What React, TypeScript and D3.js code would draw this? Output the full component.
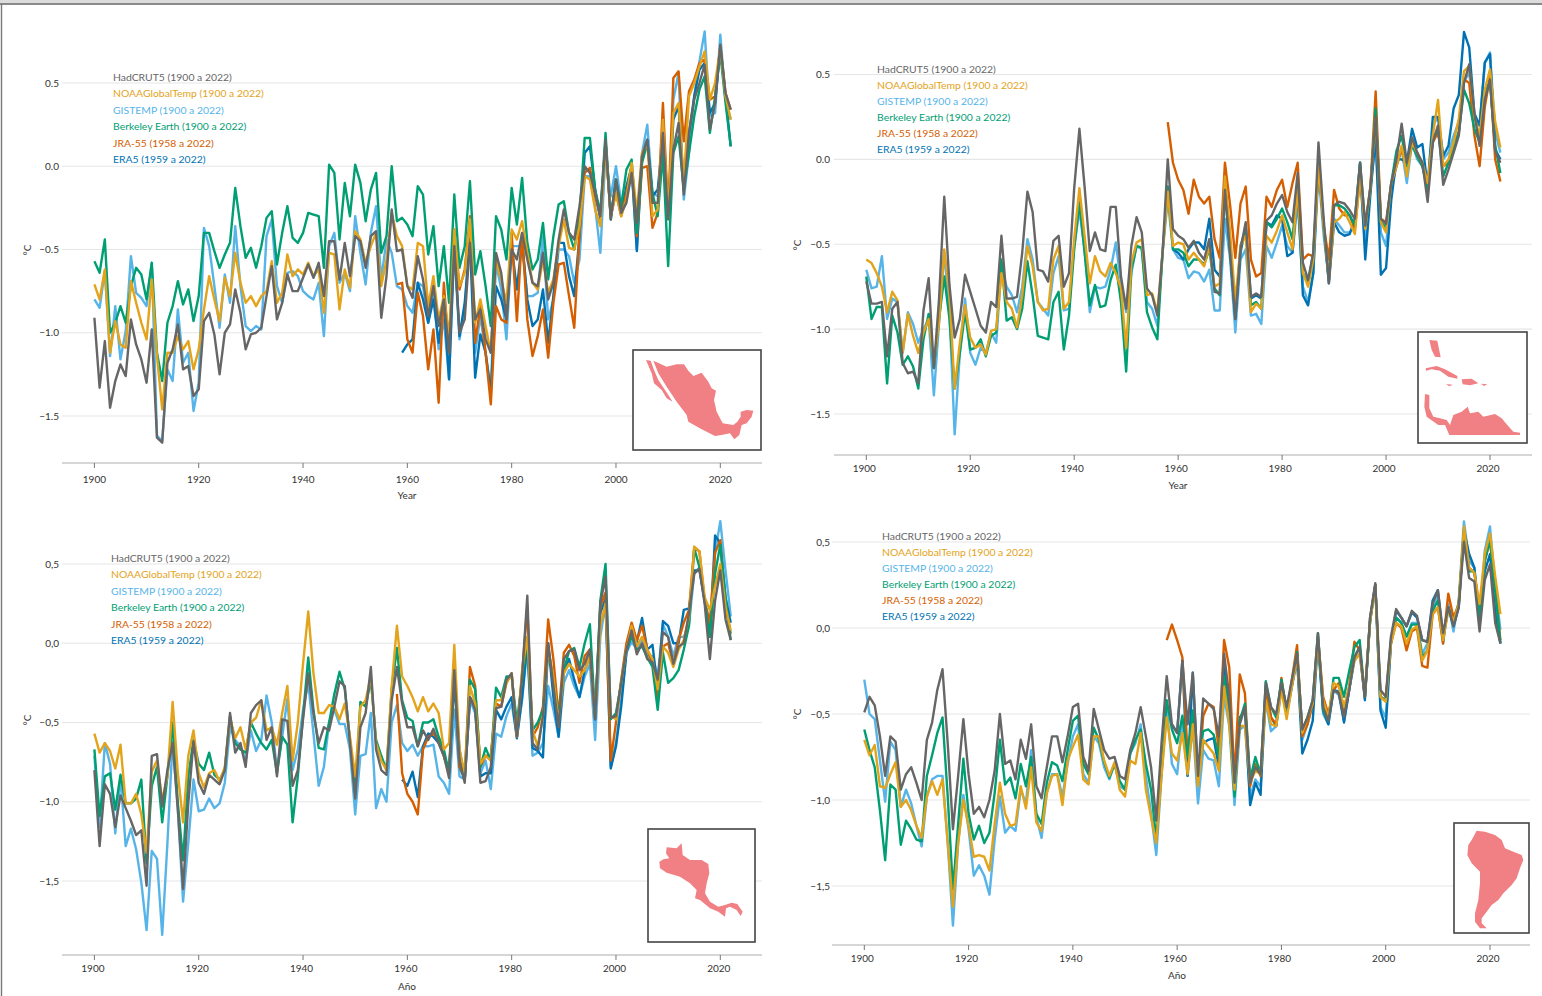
import React from "react";
import * as d3 from "d3";

const SERIES_NAMES = ["HadCRUT5 (1900 a 2022)", "NOAAGlobalTemp (1900 a 2022)", "GISTEMP (1900 a 2022)", "Berkeley Earth (1900 a 2022)", "JRA-55 (1958 a 2022)", "ERA5 (1959 a 2022)"];
const SERIES_COLORS = ["#666666", "#e3a31a", "#56b4e9", "#009e73", "#d55e00", "#0072b2"];
const SERIES_START = [1900, 1900, 1900, 1900, 1958, 1959];
// back to front
const DRAW_ORDER = [2, 5, 4, 3, 1, 0];
const X_TICKS = [1900, 1920, 1940, 1960, 1980, 2000, 2020];
const Y_TICKS = [-1.5, -1, -0.5, 0, 0.5];

// Mexico
const mexHad = [
  -0.91,-1.33,-1.05,-1.45,-1.29,-1.19,-1.26,-0.92,-1.07,-1.16,
  -1.30,-0.98,-1.63,-1.66,-1.18,-1.10,-0.95,-1.22,-1.20,-1.38,
  -1.34,-0.93,-0.88,-1.01,-1.25,-1.00,-0.95,-0.74,-0.88,-1.10,
  -1.01,-1.00,-0.97,-0.78,-0.60,-0.92,-0.82,-0.65,-0.75,-0.75,
  -0.67,-0.59,-0.67,-0.58,-0.78,-0.45,-0.45,-0.68,-0.46,-0.66,
  -0.42,-0.45,-0.61,-0.42,-0.39,-0.91,-0.66,-0.26,-0.51,-0.50,
  -0.72,-0.79,-0.54,-0.68,-0.90,-0.72,-0.96,-0.80,-1.12,-0.48,
  -1.00,-0.92,-0.46,-0.92,-0.86,-1.04,-1.12,-0.52,-0.64,-0.92,
  -0.50,-0.56,-0.40,-0.56,-0.70,-0.72,-0.52,-0.80,-0.70,-0.44,
  -0.26,-0.40,-0.44,-0.24,0,-0.04,-0.16,-0.30,0.16,-0.32,
  -0.08,-0.28,-0.22,-0.04,-0.34,0.06,0.16,-0.22,-0.22,0.20,
  -0.32,0.10,0.26,-0.17,0.20,0.40,0.50,0.61,0.22,0.38,
  0.73,0.44,0.34];
const mexNoaa = [
  -0.71,-0.80,-0.62,-1.12,-0.93,-1.07,-1.09,-0.69,-0.82,-0.94,
  -1.04,-0.68,-1.14,-1.46,-1.12,-1.12,-1.02,-1.10,-1.05,-1.22,
  -1.10,-0.86,-0.66,-0.80,-0.93,-0.67,-0.78,-0.52,-0.70,-0.82,
  -0.78,-0.84,-0.78,-0.75,-0.57,-0.82,-0.76,-0.53,-0.66,-0.62,
  -0.65,-0.58,-0.66,-0.62,-0.88,-0.52,-0.53,-0.86,-0.62,-0.73,
  -0.39,-0.44,-0.58,-0.48,-0.40,-0.72,-0.56,-0.28,-0.42,-0.48,
  -0.72,-0.74,-0.46,-0.48,-0.84,-0.66,-0.92,-0.78,-1.02,-0.38,
  -0.72,-0.64,-0.32,-0.94,-0.80,-0.96,-1.12,-0.56,-0.68,-0.82,
  -0.38,-0.44,-0.33,-0.52,-0.70,-0.74,-0.56,-0.76,-0.68,-0.48,
  -0.32,-0.49,-0.50,-0.36,-0.06,-0.08,-0.26,-0.36,0.12,-0.30,
  -0.16,-0.30,-0.20,0.02,-0.28,0.08,0.14,-0.30,-0.26,0.28,
  -0.28,0.32,0.38,-0.10,0.42,0.50,0.60,0.69,0.40,0.50,
  0.71,0.42,0.28];
const mexGiss = [
  -0.80,-0.85,-0.63,-1.14,-0.84,-1.16,-0.99,-0.54,-0.76,-0.79,
  -0.84,-0.58,-1.62,-1.65,-1.22,-1.29,-0.86,-1.18,-1.12,-1.47,
  -1.30,-0.37,-0.48,-0.72,-0.97,-0.65,-0.82,-0.36,-0.72,-0.96,
  -0.99,-0.96,-0.98,-0.42,-0.32,-0.72,-0.82,-0.64,-0.63,-0.66,
  -0.75,-0.78,-0.80,-0.70,-1.02,-0.48,-0.40,-0.70,-0.64,-0.75,
  -0.30,-0.52,-0.71,-0.40,-0.24,-0.68,-0.44,-0.52,-0.72,-0.74,
  -0.84,-0.88,-0.70,-0.72,-0.94,-0.74,-1.10,-0.92,-1.28,-0.50,
  -1.04,-0.86,-0.40,-1.12,-0.90,-1.12,-1.34,-0.58,-0.74,-1.04,
  -0.48,-0.48,-0.48,-0.78,-0.78,-0.76,-0.42,-0.92,-0.80,-0.50,
  -0.50,-0.54,-0.70,-0.56,-0.06,-0.06,-0.24,-0.52,0.08,-0.18,
  0,-0.22,-0.16,-0.02,-0.50,0.08,0.25,-0.16,-0.18,0.10,
  -0.30,0.40,0.56,-0.20,0.08,0.42,0.63,0.81,0.30,0.32,
  0.79,0.40,0.28];
const mexBerk = [
  -0.57,-0.64,-0.44,-1.00,-0.94,-0.84,-0.94,-0.72,-0.61,-0.65,
  -0.80,-0.58,-1.12,-1.29,-0.94,-0.84,-0.69,-0.83,-0.74,-0.93,
  -0.78,-0.40,-0.40,-0.51,-0.61,-0.53,-0.46,-0.13,-0.36,-0.55,
  -0.49,-0.61,-0.48,-0.31,-0.27,-0.59,-0.40,-0.24,-0.43,-0.46,
  -0.40,-0.28,-0.29,-0.30,-0.61,0.01,-0.04,-0.44,-0.10,-0.30,
  0.01,-0.10,-0.33,-0.14,-0.04,-0.52,-0.42,0,-0.33,-0.31,
  -0.35,-0.42,-0.12,-0.17,-0.53,-0.36,-0.72,-0.48,-0.82,-0.17,
  -0.61,-0.48,-0.09,-0.65,-0.51,-0.72,-0.96,-0.30,-0.38,-0.56,
  -0.13,-0.35,-0.07,-0.46,-0.62,-0.56,-0.34,-0.68,-0.42,-0.23,
  -0.21,-0.40,-0.50,-0.30,0.17,0.17,-0.14,-0.28,0.20,-0.32,
  -0.08,-0.24,-0.02,0.04,-0.40,0.02,0.14,-0.16,-0.30,0.08,
  -0.60,0.08,0.18,-0.14,0.08,0.30,0.46,0.54,0.20,0.42,
  0.68,0.38,0.12];
const mexJra = [
  -0.71,-0.70,
  -1.04,-1.12,-0.76,-0.90,-1.22,-0.98,-1.42,-0.70,-1.12,-0.38,
  -0.74,-0.62,-0.30,-1.06,-0.84,-1.12,-1.43,-0.84,-0.92,-0.94,
  -0.40,-0.93,-0.40,-0.92,-1.14,-1.02,-0.86,-1.15,-0.82,-0.59,
  -0.58,-0.78,-0.97,-0.40,-0.04,-0.01,-0.18,-0.30,0.14,-0.30,
  -0.16,-0.30,-0.16,0,-0.42,-0.01,0,-0.37,-0.28,0.38,
  -0.28,0.53,0.57,0.15,0.45,0.52,0.62,0.64,0.40,0.42,
  0.72,0.44,0.34];
const mexEra = [
  -1.12,
  -1.07,-1.04,-0.70,-0.80,-0.94,-0.80,-1.06,-0.82,-1.28,-0.44,
  -1.02,-0.82,-0.44,-1.27,-1.01,-1.12,-1.36,-0.72,-0.80,-0.92,
  -0.48,-0.74,-0.44,-0.80,-0.96,-0.92,-0.74,-1.06,-0.78,-0.46,
  -0.46,-0.66,-0.78,-0.42,0.08,0.12,-0.14,-0.32,0.14,-0.30,
  -0.08,-0.28,-0.12,0,-0.51,0.06,0.16,-0.18,-0.14,0.18,
  -0.30,0.28,0.36,-0.14,0.20,0.42,0.58,0.62,0.32,0.38,
  0.71,0.42,0.12];

// Caribbean
const carHad = [
  -0.72,-0.85,-0.85,-0.84,-1.16,-0.88,-0.84,-1.20,-1.26,-1.25,
  -1.32,-0.89,-0.70,-1.23,-0.82,-0.22,-0.74,-1.05,-0.94,-0.68,
  -0.78,-0.88,-0.98,-1.02,-0.84,-0.87,-0.45,-0.82,-0.82,-0.81,
  -0.55,-0.19,-0.31,-0.65,-0.66,-0.72,-0.48,-0.45,-0.75,-0.67,
  -0.17,0.18,-0.16,-0.54,-0.43,-0.53,-0.54,-0.28,-0.28,-0.69,
  -0.88,-0.51,-0.34,-0.43,-0.76,-0.80,-0.92,-0.55,0,-0.41,
  -0.45,-0.47,-0.52,-0.48,-0.55,-0.59,-0.47,-0.78,-0.79,-0.18,
  -0.55,-0.94,-0.53,-0.37,-0.81,-0.79,-0.81,-0.36,-0.33,-0.26,
  -0.21,-0.31,-0.37,-0.08,-0.61,-0.71,-0.55,0.10,-0.35,-0.73,
  -0.27,-0.25,-0.26,-0.30,-0.35,-0.02,-0.39,-0.16,0.25,-0.35,
  -0.38,-0.14,0,0.21,-0.02,0.13,0.04,-0.02,-0.25,0.10,
  0.20,-0.15,-0.06,0.04,0.14,0.45,0.56,0.27,0.08,0.35,
  0.47,0.05,-0.02];
const carNoaa = [
  -0.59,-0.61,-0.67,-0.75,-0.90,-0.78,-0.83,-1.14,-0.91,-1.04,
  -1.14,-1.02,-0.94,-1.20,-0.96,-0.53,-0.80,-1.35,-1.08,-0.86,
  -1.05,-1.11,-1.09,-1.15,-1.01,-1.00,-0.67,-0.84,-0.88,-0.99,
  -0.80,-0.51,-0.63,-0.84,-0.89,-0.88,-0.59,-0.51,-0.88,-0.84,
  -0.47,-0.17,-0.45,-0.73,-0.57,-0.66,-0.69,-0.61,-0.67,-0.76,
  -1.11,-0.61,-0.49,-0.47,-0.80,-0.79,-0.90,-0.55,-0.19,-0.51,
  -0.49,-0.50,-0.59,-0.55,-0.59,-0.63,-0.51,-0.75,-0.73,-0.10,
  -0.43,-0.84,-0.51,-0.45,-0.90,-0.85,-0.88,-0.45,-0.49,-0.42,
  -0.33,-0.43,-0.53,-0.18,-0.67,-0.75,-0.59,-0.04,-0.39,-0.71,
  -0.37,-0.35,-0.31,-0.37,-0.44,-0.10,-0.41,-0.16,0.24,-0.37,
  -0.43,-0.14,-0.04,0.08,-0.10,0.10,0.04,-0.02,-0.14,0.14,
  0.35,-0.04,0,0.10,0.24,0.52,0.55,0.25,0.14,0.41,
  0.53,0.22,0.07];
const carGiss = [
  -0.65,-0.76,-0.75,-0.57,-0.94,-0.82,-0.84,-1.14,-0.90,-0.97,
  -1.08,-1.00,-0.94,-1.39,-0.96,-0.55,-0.90,-1.62,-1.14,-0.82,
  -1.14,-1.21,-1.11,-1.14,-1.02,-1.08,-0.63,-0.75,-0.80,-0.90,
  -0.75,-0.47,-0.59,-0.84,-0.88,-0.92,-0.67,-0.57,-0.89,-0.88,
  -0.51,-0.30,-0.53,-0.90,-0.75,-0.76,-0.75,-0.65,-0.49,-0.73,
  -0.90,-0.67,-0.51,-0.53,-0.84,-0.88,-0.98,-0.55,-0.24,-0.53,
  -0.58,-0.59,-0.70,-0.66,-0.67,-0.72,-0.65,-0.89,-0.89,-0.35,
  -0.59,-1.02,-0.59,-0.53,-0.92,-0.91,-0.97,-0.51,-0.58,-0.49,
  -0.39,-0.51,-0.55,-0.25,-0.75,-0.84,-0.67,-0.08,-0.45,-0.71,
  -0.35,-0.39,-0.43,-0.43,-0.39,-0.10,-0.51,-0.16,0.10,-0.43,
  -0.51,-0.18,-0.04,0.06,-0.14,0.10,0,-0.04,-0.18,0.20,
  0.25,0,0.04,0.14,0.22,0.46,0.51,0.24,0.20,0.57,
  0.63,0.16,0.04];
const carBerk = [
  -0.69,-0.94,-0.87,-0.87,-1.32,-0.92,-1.02,-1.21,-1.16,-1.22,
  -1.35,-1.06,-0.91,-1.23,-0.94,-0.69,-0.94,-1.35,-1.14,-0.90,
  -1.12,-1.11,-1.06,-1.16,-1.04,-1.02,-0.59,-0.95,-0.93,-1.00,
  -0.88,-0.60,-0.80,-1.04,-1.05,-1.06,-0.84,-0.78,-1.12,-0.92,
  -0.53,-0.25,-0.55,-0.86,-0.74,-0.87,-0.86,-0.71,-0.62,-0.84,
  -1.25,-0.65,-0.51,-0.52,-0.90,-0.99,-1.06,-0.55,-0.16,-0.53,
  -0.53,-0.55,-0.63,-0.59,-0.59,-0.62,-0.53,-0.76,-0.80,-0.14,
  -0.53,-0.92,-0.51,-0.41,-0.86,-0.84,-0.88,-0.37,-0.40,-0.35,
  -0.29,-0.37,-0.47,-0.12,-0.67,-0.73,-0.55,-0.02,-0.39,-0.71,
  -0.27,-0.27,-0.29,-0.33,-0.39,-0.02,-0.39,-0.18,0.30,-0.37,
  -0.40,-0.14,0.05,0.14,-0.04,0.08,0.02,-0.04,-0.18,0.12,
  0.18,-0.10,-0.02,0.06,0.16,0.41,0.33,0.18,0.10,0.41,
  0.45,0.08,-0.08];
const carJra = [
  0.22,-0.02,
  -0.12,-0.18,-0.32,-0.12,-0.22,-0.26,-0.22,-0.47,-0.58,-0.02,
  -0.27,-0.58,-0.26,-0.16,-0.59,-0.69,-0.67,-0.22,-0.28,-0.18,
  -0.12,-0.28,-0.14,-0.02,-0.59,-0.56,-0.57,-0.04,-0.39,-0.59,
  -0.18,-0.29,-0.33,-0.33,-0.41,-0.10,-0.39,-0.16,0.40,-0.35,
  -0.37,-0.14,-0.04,0.06,-0.04,0.10,0.02,-0.04,-0.14,0.10,
  0.16,-0.04,-0.02,0.08,0.16,0.47,0.45,0.14,-0.04,0.31,
  0.49,0,-0.13];
const carEra = [
  -0.53,
  -0.55,-0.59,-0.53,-0.49,-0.49,-0.53,-0.35,-0.65,-0.69,-0.18,
  -0.55,-0.94,-0.55,-0.39,-0.82,-0.80,-0.82,-0.37,-0.39,-0.33,
  -0.35,-0.57,-0.55,-0.18,-0.80,-0.86,-0.67,0,-0.39,-0.73,
  -0.37,-0.43,-0.45,-0.44,-0.35,-0.02,-0.59,-0.20,0.14,-0.68,
  -0.64,-0.24,0,0,-0.02,0.18,0.07,0.09,-0.16,0.25,
  0.25,0.02,0.08,0.30,0.38,0.75,0.66,0.27,0.20,0.57,
  0.62,0.06,0];

// Central America
const camHad = [
  -0.80,-1.28,-0.89,-0.95,-1.16,-0.96,-1.04,-1.12,-1.21,-1.18,
  -1.53,-0.71,-0.70,-1.03,-0.80,-0.63,-1.05,-1.55,-1.01,-0.62,
  -0.88,-0.95,-0.83,-0.86,-0.89,-0.80,-0.44,-0.69,-0.63,-0.78,
  -0.44,-0.39,-0.36,-0.61,-0.53,-0.84,-0.48,-0.49,-0.90,-0.80,
  -0.48,-0.19,-0.44,-0.63,-0.53,-0.55,-0.40,-0.24,-0.27,-0.63,
  -0.98,-0.53,-0.44,-0.15,-0.67,-0.80,-0.83,-0.36,-0.15,-0.38,
  -0.53,-0.53,-0.65,-0.55,-0.61,-0.54,-0.63,-0.71,-0.85,-0.17,
  -0.74,-0.88,-0.34,-0.42,-0.88,-0.87,-0.78,-0.41,-0.40,-0.23,
  -0.19,-0.59,-0.21,0.30,-0.63,-0.67,-0.46,0,-0.27,-0.53,
  -0.10,-0.05,-0.04,-0.17,-0.13,-0.04,-0.48,0.25,0.42,-0.47,
  -0.46,-0.25,-0.04,0.08,-0.07,0,-0.10,-0.12,-0.23,0.07,
  0.04,-0.13,-0.02,0,0.19,0.44,0.47,0.25,-0.10,0.27,
  0.46,0.15,0.02];
const camNoaa = [
  -0.57,-0.69,-0.63,-0.68,-0.79,-0.64,-1.01,-1.01,-0.95,-1.08,
  -1.32,-0.81,-0.74,-0.99,-0.84,-0.37,-0.82,-1.13,-0.71,-0.55,
  -0.82,-0.91,-0.82,-0.80,-0.87,-0.78,-0.47,-0.60,-0.53,-0.67,
  -0.50,-0.47,-0.36,-0.55,-0.53,-0.64,-0.44,-0.27,-0.74,-0.50,
  -0.13,0.20,-0.19,-0.44,-0.44,-0.39,-0.40,-0.48,-0.38,-0.59,
  -0.84,-0.40,-0.36,-0.21,-0.63,-0.74,-0.80,-0.27,0.11,-0.21,
  -0.27,-0.34,-0.43,-0.34,-0.43,-0.38,-0.44,-0.67,-0.63,-0.01,
  -0.67,-0.82,-0.27,-0.38,-0.76,-0.71,-0.74,-0.36,-0.36,-0.25,
  -0.19,-0.59,-0.17,0.04,-0.55,-0.65,-0.46,-0.04,-0.21,-0.50,
  -0.19,-0.13,-0.17,-0.21,-0.17,-0.08,-0.46,0.11,0.25,-0.46,
  -0.48,-0.25,-0.04,0.11,-0.02,0.04,-0.04,-0.10,-0.29,-0.02,
  -0.06,-0.15,-0.04,0.02,0.17,0.61,0.58,0.29,0.21,0.36,
  0.50,0.23,0.08];
const camGiss = [
  -0.71,-1.16,-0.63,-0.76,-1.20,-0.84,-1.28,-1.17,-1.30,-1.51,
  -1.81,-1.31,-1.36,-1.84,-1.26,-0.61,-1.05,-1.63,-1.26,-0.86,
  -1.06,-1.05,-0.98,-1.04,-1.01,-0.88,-0.53,-0.61,-0.65,-0.74,
  -0.55,-0.68,-0.61,-0.33,-0.50,-0.80,-0.59,-0.35,-0.80,-0.67,
  -0.42,-0.25,-0.57,-0.90,-0.78,-0.50,-0.42,-0.51,-0.51,-0.67,
  -1.08,-0.71,-0.70,-0.44,-1.04,-0.92,-1.00,-0.50,-0.39,-0.63,
  -0.68,-0.64,-0.71,-0.65,-0.65,-0.64,-0.84,-0.88,-0.95,-0.42,
  -0.84,-0.86,-0.36,-0.44,-0.82,-0.74,-0.92,-0.57,-0.59,-0.46,
  -0.38,-0.59,-0.36,-0.02,-0.71,-0.69,-0.63,-0.27,-0.42,-0.59,
  -0.25,-0.17,-0.27,-0.34,-0.21,-0.13,-0.61,0.04,0.25,-0.78,
  -0.63,-0.36,-0.06,0.01,-0.04,0.03,-0.08,-0.08,-0.21,0.12,
  0.04,-0.08,0.04,0.04,0.12,0.44,0.48,0.27,0.06,0.57,
  0.77,0.46,0.17];
const camBerk = [
  -0.67,-1.09,-0.84,-0.82,-1.05,-0.83,-1.01,-1.01,-0.98,-0.86,
  -1.39,-0.90,-0.78,-1.13,-0.84,-0.50,-1.01,-1.37,-0.84,-0.61,
  -0.76,-0.80,-0.69,-0.83,-0.86,-0.80,-0.46,-0.63,-0.67,-0.69,
  -0.50,-0.57,-0.63,-0.67,-0.61,-0.82,-0.59,-0.64,-1.13,-0.84,
  -0.46,-0.09,-0.42,-0.66,-0.67,-0.50,-0.32,-0.18,-0.29,-0.61,
  -0.95,-0.37,-0.40,-0.23,-0.61,-0.71,-0.80,-0.29,-0.03,-0.36,
  -0.47,-0.49,-0.65,-0.50,-0.50,-0.48,-0.59,-0.67,-0.82,-0.19,
  -0.67,-0.86,-0.23,-0.29,-0.78,-0.66,-0.74,-0.28,-0.34,-0.21,
  -0.21,-0.50,-0.23,0.04,-0.55,-0.50,-0.42,-0.04,-0.23,-0.46,
  -0.17,-0.05,-0.03,-0.15,0,0.12,-0.46,0.27,0.50,-0.48,
  -0.44,-0.25,-0.04,0.04,-0.04,-0.02,-0.09,-0.15,-0.42,-0.06,
  -0.25,-0.22,-0.17,-0.04,0.11,0.60,0.48,0.27,0.04,0.44,
  0.62,0.29,0.02];
const camJra = [
  -0.32,-0.82,
  -0.95,-1.00,-1.08,-0.67,-0.59,-0.57,-0.61,-0.71,-0.80,-0.15,
  -0.78,-0.84,-0.15,-0.27,-0.78,-0.71,-0.71,-0.38,-0.40,-0.25,
  -0.19,-0.59,-0.19,0.23,-0.59,-0.53,-0.40,0.15,-0.10,-0.46,
  -0.06,-0.01,-0.08,-0.25,-0.08,-0.04,-0.46,0.23,0.32,-0.74,
  -0.50,-0.23,0,0.13,0.02,0.11,-0.04,-0.13,-0.34,-0.02,
  0,-0.13,0.02,0.13,0.21,0.60,0.58,0.27,0.13,0.57,
  0.65,0.23,0.06];
const camEra = [
  -0.86,
  -0.90,-0.81,-0.97,-0.65,-0.57,-0.59,-0.63,-0.71,-0.82,-0.23,
  -0.78,-0.86,-0.34,-0.40,-0.84,-0.82,-0.82,-0.42,-0.48,-0.40,
  -0.34,-0.60,-0.34,0,-0.66,-0.68,-0.72,0,-0.34,-0.59,
  -0.19,-0.10,-0.23,-0.34,-0.17,-0.08,-0.48,0.19,0.28,-0.79,
  -0.65,-0.40,-0.06,0.06,0.01,0.16,-0.04,-0.01,-0.29,0.14,
  0.11,0,0,0.21,0.22,0.46,0.46,0.27,0.04,0.68,
  0.63,0.29,0.13];

// South America
const samHad = [
  -0.49,-0.40,-0.45,-0.63,-0.86,-0.63,-0.66,-0.94,-0.85,-0.81,
  -0.90,-1.00,-0.65,-0.55,-0.36,-0.24,-0.67,-1.17,-0.86,-0.53,
  -0.85,-1.08,-1.04,-1.10,-1.00,-0.83,-0.50,-0.79,-0.77,-0.88,
  -0.65,-0.76,-0.56,-0.92,-0.99,-0.81,-0.63,-0.63,-0.78,-0.63,
  -0.46,-0.44,-0.75,-0.83,-0.47,-0.59,-0.71,-0.76,-0.75,-0.86,
  -0.88,-0.71,-0.61,-0.46,-0.63,-0.81,-1.12,-0.67,-0.28,-0.56,
  -0.61,-0.19,-0.56,-0.26,-0.86,-0.41,-0.44,-0.47,-0.63,-0.15,
  -0.40,-0.90,-0.56,-0.46,-0.90,-0.81,-0.85,-0.32,-0.46,-0.50,
  -0.32,-0.46,-0.30,-0.15,-0.59,-0.52,-0.42,-0.03,-0.46,-0.54,
  -0.36,-0.38,-0.52,-0.36,-0.17,-0.11,-0.40,0.06,0.26,-0.36,
  -0.40,-0.05,0.11,0.06,0.01,0.10,0.07,-0.07,-0.08,0.14,
  0.22,-0.03,0.12,0.01,0.12,0.50,0.29,0.27,-0.02,0.28,
  0.37,0.03,-0.09];
const samNoaa = [
  -0.65,-0.74,-0.68,-0.92,-0.93,-0.85,-0.78,-1.04,-1.00,-1.06,
  -1.15,-1.22,-0.98,-0.89,-0.97,-0.88,-1.25,-1.62,-1.25,-1.00,
  -1.15,-1.33,-1.32,-1.33,-1.41,-1.14,-0.90,-1.08,-1.15,-1.14,
  -0.92,-1.05,-0.81,-1.13,-1.18,-0.96,-0.86,-0.85,-1.03,-0.77,
  -0.69,-0.62,-0.88,-0.91,-0.63,-0.63,-0.77,-0.86,-0.78,-0.94,
  -0.98,-0.77,-0.79,-0.61,-0.94,-1.10,-1.25,-0.86,-0.52,-0.73,
  -0.77,-0.61,-0.85,-0.56,-0.92,-0.65,-0.69,-0.73,-0.83,-0.34,
  -0.56,-0.94,-0.57,-0.57,-0.90,-0.83,-0.85,-0.42,-0.56,-0.57,
  -0.36,-0.53,-0.34,-0.17,-0.61,-0.52,-0.44,-0.07,-0.42,-0.52,
  -0.32,-0.34,-0.46,-0.34,-0.19,-0.15,-0.38,0.04,0.24,-0.40,
  -0.43,-0.09,0.03,0.01,-0.09,-0.01,0.01,-0.19,-0.13,0.08,
  0.12,-0.07,0.10,0.04,0.14,0.59,0.35,0.32,0.14,0.43,
  0.55,0.30,0.08];
const samGiss = [
  -0.30,-0.50,-0.53,-0.77,-1.01,-0.66,-0.71,-1.04,-0.94,-1.02,
  -1.15,-1.27,-0.98,-0.88,-0.86,-0.86,-1.25,-1.73,-1.25,-0.97,
  -1.17,-1.44,-1.38,-1.44,-1.55,-1.23,-0.98,-1.19,-1.15,-1.18,
  -0.94,-1.02,-0.71,-1.10,-1.22,-0.96,-0.85,-0.85,-0.98,-0.79,
  -0.63,-0.56,-0.85,-0.90,-0.63,-0.67,-0.81,-0.88,-0.79,-0.92,
  -0.94,-0.73,-0.67,-0.56,-0.86,-1.08,-1.32,-0.86,-0.46,-0.79,
  -0.85,-0.54,-0.86,-0.57,-1.02,-0.71,-0.76,-0.77,-0.92,-0.40,
  -0.57,-1.03,-0.59,-0.57,-0.98,-0.88,-0.92,-0.42,-0.60,-0.57,
  -0.36,-0.50,-0.34,-0.19,-0.65,-0.56,-0.44,-0.07,-0.50,-0.56,
  -0.36,-0.39,-0.54,-0.36,-0.19,-0.15,-0.40,0.04,0.24,-0.46,
  -0.52,-0.09,0.06,0.03,-0.05,0.03,0.03,-0.15,-0.09,0.12,
  0.20,-0.09,0.14,-0.02,0.16,0.62,0.39,0.35,0.04,0.45,
  0.59,0.24,-0.01];
const samBerk = [
  -0.59,-0.71,-0.81,-1.06,-1.35,-0.91,-0.94,-1.26,-1.12,-1.17,
  -1.23,-1.24,-0.86,-0.74,-0.61,-0.52,-0.98,-1.52,-1.14,-0.76,
  -1.08,-1.23,-1.15,-1.25,-1.19,-0.96,-0.65,-0.91,-0.87,-0.99,
  -0.79,-0.92,-0.75,-1.08,-1.14,-0.90,-0.78,-0.80,-0.89,-0.71,
  -0.54,-0.51,-0.79,-0.85,-0.58,-0.65,-0.78,-0.87,-0.79,-0.89,
  -0.94,-0.73,-0.65,-0.59,-0.79,-0.94,-1.23,-0.83,-0.42,-0.59,
  -0.67,-0.51,-0.75,-0.48,-0.81,-0.60,-0.59,-0.62,-0.75,-0.28,
  -0.52,-0.98,-0.54,-0.44,-0.88,-0.75,-0.85,-0.31,-0.46,-0.52,
  -0.30,-0.48,-0.32,-0.14,-0.59,-0.52,-0.42,-0.03,-0.48,-0.54,
  -0.29,-0.29,-0.40,-0.25,-0.11,-0.07,-0.40,0.04,0.25,-0.40,
  -0.42,-0.07,0.06,0.03,-0.05,0.02,0.02,-0.17,-0.13,0.10,
  0.16,-0.07,0.12,0.03,0.14,0.55,0.33,0.33,0.06,0.39,
  0.51,0.22,-0.09];
const samJra = [
  -0.07,0.02,
  -0.07,-0.17,-0.73,-0.52,-0.90,-0.51,-0.44,-0.46,-0.71,-0.07,
  -0.23,-0.88,-0.27,-0.38,-0.92,-0.79,-0.86,-0.36,-0.52,-0.56,
  -0.29,-0.50,-0.30,-0.10,-0.63,-0.56,-0.44,-0.05,-0.40,-0.50,
  -0.36,-0.32,-0.48,-0.34,-0.08,-0.13,-0.40,0.04,0.25,-0.40,
  -0.42,-0.09,0.03,0,-0.13,-0.02,0,-0.22,-0.23,0.08,
  0.12,-0.09,0.20,0.06,0.14,0.55,0.35,0.32,0.10,0.39,
  0.51,0.22,-0.07];
const samEra = [
  -0.56,
  -0.61,-0.19,-0.86,-0.26,-0.86,-0.67,-0.65,-0.64,-0.81,-0.23,
  -0.46,-0.92,-0.52,-0.48,-1.03,-0.90,-0.97,-0.34,-0.52,-0.57,
  -0.32,-0.50,-0.34,-0.17,-0.73,-0.65,-0.54,-0.07,-0.48,-0.56,
  -0.36,-0.37,-0.55,-0.36,-0.17,-0.11,-0.42,0.06,0.25,-0.48,
  -0.58,-0.09,0.10,0.06,0.01,0.09,0.06,-0.07,-0.08,0.16,
  0.22,-0.05,0.12,0.01,0.12,0.57,0.43,0.35,0.04,0.33,
  0.43,0.10,-0.09];

// outlines of the inset maps, in 3x crop units
const MAP_MEXICO = [
  "M738,1020L752,1022L762,1050L775,1080L795,1110L818,1145L800,1135L785,1110L762,1090L755,1060Z",
  "M760,1022L800,1040L830,1033L852,1033L865,1052L880,1068L905,1058L925,1085L935,1105L948,1112L942,1140L950,1175L968,1210L1000,1215L1012,1205L1022,1190L1022,1175L1040,1170L1060,1172L1055,1190L1040,1210L1025,1215L1018,1245L1003,1258L990,1240L965,1245L945,1248L905,1228L865,1205L860,1185L830,1145L800,1100L775,1060Z",
];
const MAP_CARIBBEAN = [
  "M778,960L802,962L812,1012L795,1010L785,990Z",
  "M767,1045L800,1038L825,1048L862,1068L862,1076L835,1070L810,1052L785,1048L768,1052Z",
  "M875,1078L905,1076L925,1090L900,1096L878,1093Z",
  "M828,1092L848,1094L838,1099Z",
  "M933,1091L952,1093L942,1098Z",
  "M765,1122L778,1125L778,1165L790,1190L810,1195L830,1200L840,1215L850,1185L875,1175L893,1160L900,1180L925,1175L940,1190L975,1182L995,1195L1012,1215L1030,1235L1050,1238L1050,1245L838,1245L825,1215L805,1215L770,1190L763,1160Z",
];
const MAP_CENTRAL = [
  "M800,1012L830,1015L845,1000L848,1035L870,1050L905,1050L925,1062L928,1090L920,1120L915,1150L930,1175L955,1190L975,1185L995,1178L1012,1182L1028,1205L1022,1218L1010,1200L990,1190L978,1195L975,1220L955,1205L930,1195L900,1170L885,1165L890,1140L870,1120L840,1100L800,1088L780,1075L778,1055L790,1048L808,1045L798,1030Z",
];
const MAP_SOUTH = [
  "M920,962L945,965L975,975L995,990L1005,1015L1030,1025L1055,1035L1060,1050L1050,1075L1040,1105L1025,1125L1000,1150L985,1170L965,1185L950,1205L935,1225L935,1240L950,1255L930,1255L915,1235L915,1210L925,1170L930,1120L930,1085L905,1060L892,1035L895,1005L905,990Z",
];

const PANELS = [
  { series: [mexHad, mexNoaa, mexGiss, mexBerk, mexJra, mexEra], decimal: ".", xLabel: "Year",
    x: [94.4, 720.3], y: [416, 83], axisY: 463, gridX: [62, 762], tickY: 483, tickDx: 0, xLabelPos: [407, 499], yLabelPos: [31, 250], yTickX: 59,
    legend: [113, 81, 16.4], inset: [633, 350, 128, 100], map: MAP_MEXICO, mapOrigin: [400, 20] },
  { series: [carHad, carNoaa, carGiss, carBerk, carJra, carEra], decimal: ".", xLabel: "Year",
    x: [866.3, 1490], y: [414, 74.5], axisY: 455, gridX: [834, 1532], tickY: 472, tickDx: -2, xLabelPos: [1178, 489], yLabelPos: [801, 245], yTickX: 830,
    legend: [877, 73, 16], inset: [1418, 332, 109, 111], map: MAP_CARIBBEAN, mapOrigin: [1170, 20] },
  { series: [camHad, camNoaa, camGiss, camBerk, camJra, camEra], decimal: ",", xLabel: "Año",
    x: [94.4, 720.3], y: [881, 564], axisY: 955, gridX: [62, 762], tickY: 972, tickDx: -1.5, xLabelPos: [407, 990], yLabelPos: [31, 720], yTickX: 59,
    legend: [111, 562, 16.4], inset: [648, 829, 107, 113], map: MAP_CENTRAL, mapOrigin: [400, 510] },
  { series: [samHad, samNoaa, samGiss, samBerk, samJra, samEra], decimal: ",", xLabel: "Año",
    x: [864.3, 1490], y: [886, 542], axisY: 945, gridX: [832, 1530], tickY: 962, tickDx: -2, xLabelPos: [1177, 979], yLabelPos: [801, 714], yTickX: 830,
    legend: [882, 540, 16], inset: [1454, 823, 75, 110], map: MAP_SOUTH, mapOrigin: [1170, 510] },
];

const FONT = "Lato, 'Noto Sans', sans-serif";

const Panel = ({ p }: { p: (typeof PANELS)[number] }) => {
  const xScale = d3.scaleLinear().domain([1900, 2020]).range(p.x);
  const yScale = d3.scaleLinear().domain([-1.5, 0.5]).range(p.y);

  const fmt = (v: number) => {
    const s = d3.format(".1f")(Math.abs(v)).replace(".", p.decimal);
    return v < 0 ? "−" + s : s;
  };

  return (
    <g fontFamily={FONT}>
      {Y_TICKS.map((t) => (
        <g key={t}>
          <line x1={p.gridX[0]} x2={p.gridX[1]} y1={yScale(t)} y2={yScale(t)} stroke="#e6e6e6" strokeWidth={1.2} />
          <text x={p.yTickX} y={yScale(t) + 3.5} textAnchor="end" fontSize={10} fill="#333">{fmt(t)}</text>
        </g>
      ))}
      <line x1={p.gridX[0]} x2={p.gridX[1]} y1={p.axisY} y2={p.axisY} stroke="#c8c8c8" strokeWidth={1.5} />
      {X_TICKS.map((t) => (
        <g key={t}>
          <line x1={xScale(t)} x2={xScale(t)} y1={p.axisY} y2={p.axisY + 5} stroke="#777" strokeWidth={1} />
          <text x={xScale(t) + p.tickDx} y={p.tickY} textAnchor="middle" fontSize={10} fill="#333">{t}</text>
        </g>
      ))}
      <text x={p.xLabelPos[0]} y={p.xLabelPos[1]} textAnchor="middle" fontSize={10} fill="#333">{p.xLabel}</text>
      <text transform={`translate(${p.yLabelPos[0]},${p.yLabelPos[1]}) rotate(-90)`} textAnchor="middle" fontSize={10} fill="#333">°C</text>

      {DRAW_ORDER.map((i) => {
        const line = d3
          .line<number>()
          .x((_, k) => xScale(SERIES_START[i] + k))
          .y((d) => yScale(d));
        return <path key={i} d={line(p.series[i]) ?? ""} fill="none" stroke={SERIES_COLORS[i]} strokeWidth={2.4} strokeLinejoin="round" />;
      })}

      {SERIES_NAMES.map((name, i) => (
        <text key={name} x={p.legend[0]} y={p.legend[1] + i * p.legend[2]} fontSize={10.4} fill={SERIES_COLORS[i]}>{name}</text>
      ))}

      <rect x={p.inset[0]} y={p.inset[1]} width={p.inset[2]} height={p.inset[3]} fill="#fff" stroke="#444" strokeWidth={1.6} />
      <g transform={`translate(${p.mapOrigin[0]},${p.mapOrigin[1]}) scale(${1 / 3})`}>
        {p.map.map((d) => <path key={d} d={d} fill="#f08084" />)}
      </g>
    </g>
  );
};

export default function App() {
  return (
    <svg width={1542} height={996} style={{ position: "absolute", left: 0, top: 0, background: "#fff" }}>
      <rect x={0} y={0} width={1542} height={3.5} fill="#dcdcdc" />
      <line x1={0} x2={1542} y1={4} y2={4} stroke="#666" strokeWidth={1.4} />
      <line x1={1.5} x2={1.5} y1={4} y2={996} stroke="#777" strokeWidth={1.4} />
      {PANELS.map((p, i) => <Panel key={i} p={p} />)}
    </svg>
  );
}
